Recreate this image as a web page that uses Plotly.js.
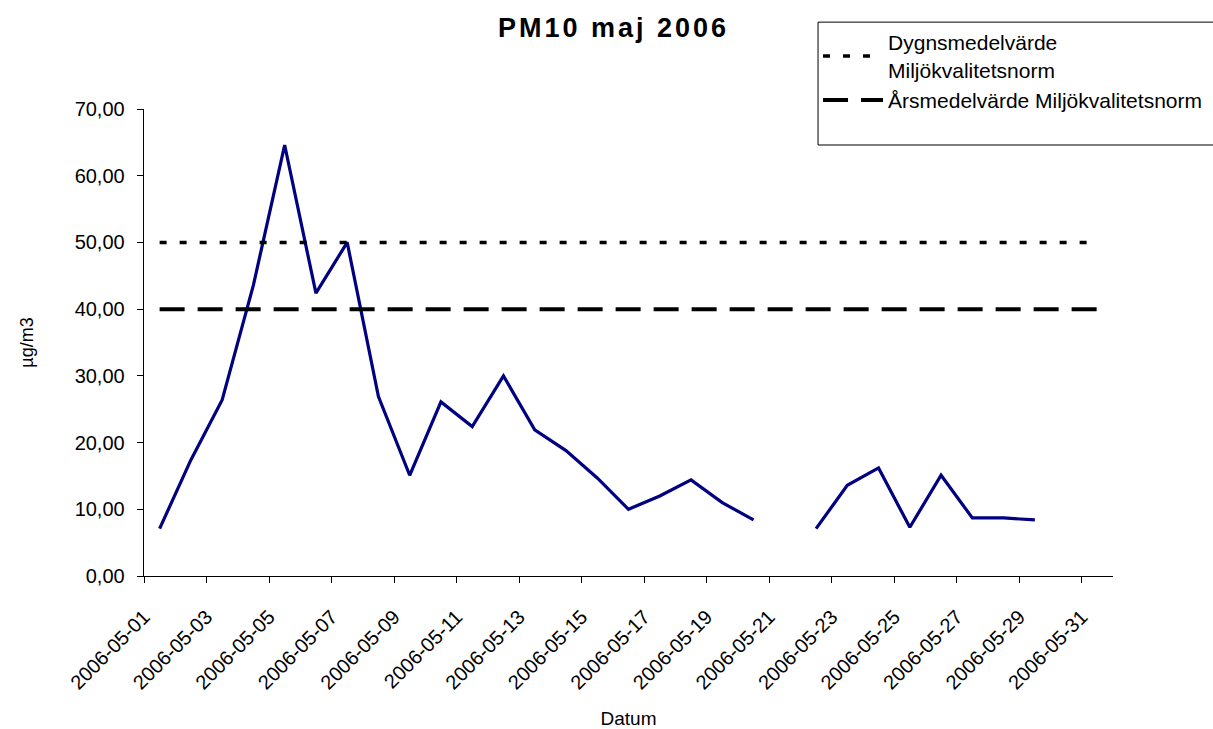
<!DOCTYPE html>
<html>
<head>
<meta charset="utf-8">
<script src="https://cdn.plot.ly/plotly-3.0.1.min.js"></script>
<style>
html,body{margin:0;padding:0;background:#fff;}
#chart{width:1213px;height:729px;}
#chart .gtitle{letter-spacing:3px;}
</style>
</head>
<body>
<div id="chart"></div>
<script>
const dates = ["2006-05-01","2006-05-02","2006-05-03","2006-05-04","2006-05-05","2006-05-06","2006-05-07","2006-05-08","2006-05-09","2006-05-10","2006-05-11","2006-05-12","2006-05-13","2006-05-14","2006-05-15","2006-05-16","2006-05-17","2006-05-18","2006-05-19","2006-05-20","2006-05-21","2006-05-22","2006-05-23","2006-05-24","2006-05-25","2006-05-26","2006-05-27","2006-05-28","2006-05-29","2006-05-30","2006-05-31"];
const pm10 = [7.1,17.4,26.4,43.6,64.6,42.4,50.0,26.9,15.1,26.1,22.4,30.0,21.9,18.8,14.7,10.0,12.0,14.4,11.0,8.4,null,7.1,13.6,16.2,7.3,15.1,8.7,8.7,8.4,null,null];
const dygnsNorm = 50;
const arsNorm = 40;
const seriesNames = ["PM10","Dygnsmedelvärde<br>Miljökvalitetsnorm","Årsmedelvärde Miljökvalitetsnorm"];

const xs = dates.map(d => d + " 12:00");
const font = "Arial, 'Liberation Sans', sans-serif";

const traces = [
  {x: xs, y: pm10, type: "scatter", mode: "lines", name: seriesNames[0], showlegend: false,
   connectgaps: false, line: {color: "#000080", width: 3.2}},
  {x: xs, y: dates.map(() => dygnsNorm), type: "scatter", mode: "lines", name: seriesNames[1],
   line: {color: "#000", width: 3.5, dash: "7px,13px"}},
  {x: xs, y: dates.map(() => arsNorm), type: "scatter", mode: "lines", name: seriesNames[2],
   line: {color: "#000", width: 4, dash: "25px,13px"}}
];

const layout = {
  width: 1213, height: 729,
  margin: {l: 144, r: 100, t: 109, b: 153, autoexpand: false},
  paper_bgcolor: "#fff", plot_bgcolor: "#fff",
  separators: ",.",
  font: {family: font, size: 20, color: "#000"},
  hovermode: false,
  title: {text: "<b>PM10 maj 2006</b>", font: {family: font, size: 27, color: "#000"},
          x: 0.5058, xanchor: "center", y: 0.962, yanchor: "middle"},
  xaxis: {
    type: "date", range: ["2006-05-01", "2006-06-01"],
    tick0: "2006-05-01", dtick: 2 * 86400000, tickformat: "%Y-%m-%d",
    tickangle: -45, ticks: "outside", ticklen: 6, tickcolor: "#000",
    showline: true, linecolor: "#000", linewidth: 1.3, showgrid: false, zeroline: false,
    tickfont: {size: 20}, ticklabelstandoff: 14,
    title: {text: "Datum", font: {size: 19}, standoff: 20}
  },
  yaxis: {
    range: [0, 70], dtick: 10, tickformat: ".2f",
    ticks: "outside", ticklen: 6, tickcolor: "#000",
    showline: true, linecolor: "#000", linewidth: 1.3, showgrid: false, zeroline: false,
    tickfont: {size: 20}, ticklabelstandoff: 8,
    title: {text: "µg/m3", font: {size: 18}, standoff: 36}
  },
  shapes: [{
    type: "rect", xref: "paper", yref: "paper", layer: "above",
    x0: 0.6956, x1: 1.106, y0: 0.9229, y1: 1.186,
    line: {color: "#000", width: 1}, fillcolor: "#fff"
  }],
  showlegend: true,
  legend: {
    x: 0.6956, xanchor: "left", y: 1.186, yanchor: "top",
    borderwidth: 0, bgcolor: "rgba(0,0,0,0)",
    font: {size: 21, family: font}, itemwidth: 60, tracegroupgap: 8
  }
};

Plotly.newPlot("chart", traces, layout, {displayModeBar: false, staticPlot: true});
</script>
</body>
</html>
